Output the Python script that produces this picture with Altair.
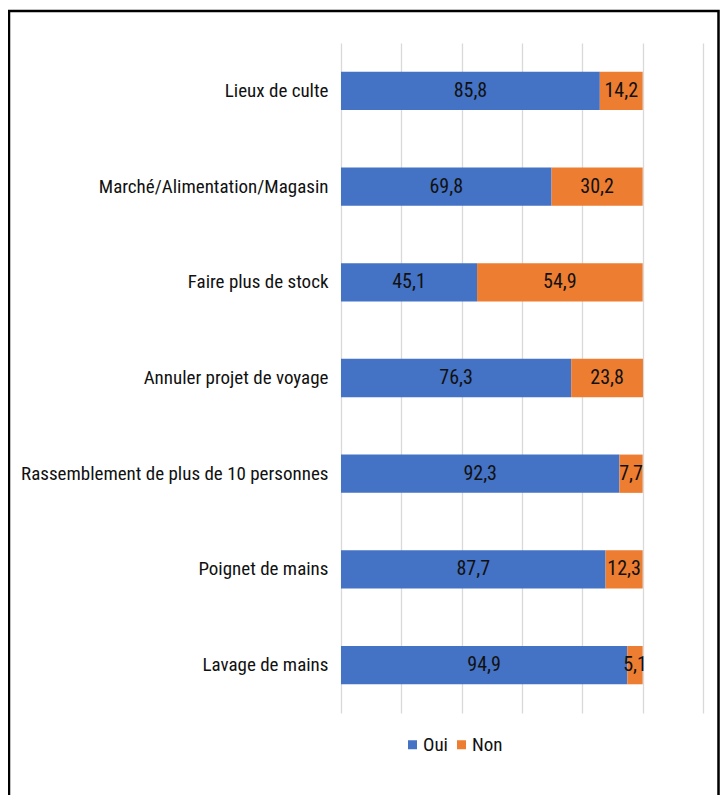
import altair as alt
import pandas as pd

categories = [
    "Lieux de culte",
    "Marché/Alimentation/Magasin",
    "Faire plus de stock",
    "Annuler projet de voyage",
    "Rassemblement de plus de 10 personnes",
    "Poignet de mains",
    "Lavage de mains",
]
oui = [85.8, 69.8, 45.1, 76.3, 92.3, 87.7, 94.9]
non = [14.2, 30.2, 54.9, 23.8, 7.7, 12.3, 5.1]
series = ["Oui", "Non"]
colors = ["#4472C4", "#ED7D31"]
grid_ticks = [0, 20, 40, 60, 80, 100, 120]

rows = []
for c, o, n in zip(categories, oui, non):
    rows.append({"cat": c, "serie": "Oui", "ord": 0, "val": o})
    rows.append({"cat": c, "serie": "Non", "ord": 1, "val": n})
df = pd.DataFrame(rows)

FONT = "Roboto Condensed, DejaVu Sans Condensed, sans-serif"
TXT = "#111111"
FS = 19

base = alt.Chart(df).transform_stack(
    stack="val", groupby=["cat"], as_=["x0", "x1"],
    sort=[alt.SortField("ord", order="ascending")]
).transform_calculate(
    mid="(datum.x0 + datum.x1) / 2",
    label="replace(format(datum.val, '.1f'), '.', ',')",
)

yenc = alt.Y(
    "cat:N", sort=categories,
    scale=alt.Scale(paddingInner=0.6, paddingOuter=0.3),
    axis=alt.Axis(title=None, ticks=False, domain=False, labelFont=FONT,
                  labelFontSize=FS, labelColor=TXT, labelPadding=13,
                  labelLimit=400, grid=False),
)

bars = base.mark_bar().encode(
    x=alt.X("x0:Q", scale=alt.Scale(domain=[0, 120], nice=False),
            axis=alt.Axis(values=grid_ticks, labels=False, ticks=False,
                          domain=False, grid=True, gridColor="#D9D9D9",
                          gridWidth=1.3, title=None)),
    x2="x1:Q",
    y=yenc,
    color=alt.Color(
        "serie:N", scale=alt.Scale(domain=series, range=colors),
        legend=alt.Legend(title=None, orient="none", legendX=62, legendY=692,
                          direction="horizontal", symbolType="square",
                          symbolSize=81, symbolStrokeWidth=0,
                          labelFont=FONT, labelFontSize=FS, labelColor=TXT,
                          labelOffset=1, columnPadding=4),
    ),
)

labels = base.mark_text(font=FONT, fontSize=20, color=TXT).encode(
    x="mid:Q", y=yenc, text="label:N"
)

frame = alt.Chart(pd.DataFrame({"a": [0]})).mark_rect(
    fillOpacity=0, stroke="#000000", strokeWidth=2.5
).encode(
    x=alt.value(-332), x2=alt.value(377.5),
    y=alt.value(-32), y2=alt.value(800),
)

chart = alt.layer(bars, labels, frame).properties(
    width=362, height=670,
    padding={"left": 333, "top": 35, "right": 17, "bottom": 82},
    autosize="none",
    background="white",
).configure_view(stroke=None)

chart.save("out.html", embed_options={"renderer": "svg", "actions": False})
